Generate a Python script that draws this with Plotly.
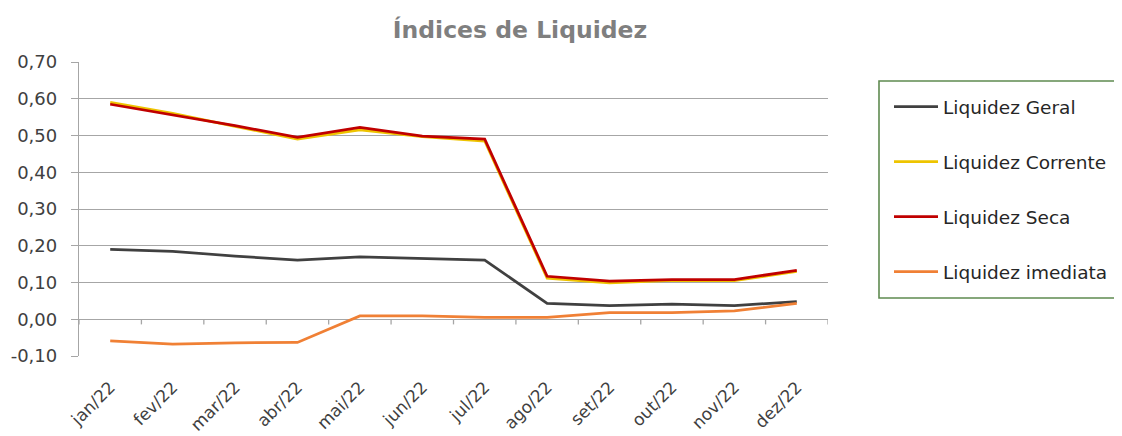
import plotly.graph_objects as go

months = ["jan/22", "fev/22", "mar/22", "abr/22", "mai/22", "jun/22",
          "jul/22", "ago/22", "set/22", "out/22", "nov/22", "dez/22"]
liq_geral = [0.190, 0.185, 0.172, 0.161, 0.170, 0.165, 0.161, 0.043, 0.037, 0.041, 0.037, 0.048]
liq_corrente = [0.590, 0.560, 0.525, 0.490, 0.515, 0.497, 0.485, 0.112, 0.099, 0.106, 0.105, 0.130]
liq_seca = [0.585, 0.556, 0.527, 0.495, 0.522, 0.498, 0.490, 0.117, 0.104, 0.108, 0.108, 0.133]
liq_imediata = [-0.059, -0.068, -0.064, -0.063, 0.009, 0.009, 0.005, 0.005, 0.018, 0.018, 0.023, 0.043]

y_tick_values = [-0.1, 0.0, 0.1, 0.2, 0.3, 0.4, 0.5, 0.6, 0.7]
y_tick_labels = ["-0,10", "0,00", "0,10", "0,20", "0,30", "0,40", "0,50", "0,60", "0,70"]

series = [
    ("Liquidez Geral", liq_geral, "#404040", 2.75),
    ("Liquidez Corrente", liq_corrente, "#EEC400", 2.75),
    ("Liquidez Seca", liq_seca, "#C00000", 2.75),
    ("Liquidez imediata", liq_imediata, "#F08035", 2.75),
]

# The page body has an 8px default margin, so layout is expressed in
# window pixels and converted to figure pixels by subtracting OFF.
OFF = 8
W, H = 1122 - OFF, 436 - OFF
PL, PR, PT, PB = 79, 828, 62, 356          # plot area in window px
L, T = PL - OFF, PT - OFF
R, B = W - (PR - OFF), H - (PB - OFF)
PW, PH = W - L - R, H - T - B

def pxx(px):
    return (px - OFF - L) / PW

def pxy(py):
    return (H - B - (py - OFF)) / PH

FONT = "'DejaVu Sans', sans-serif"
fig = go.Figure()
for name, vals, color, w in series:
    fig.add_trace(go.Scatter(x=months, y=vals, mode="lines", name=name,
                             legendgroup=name,
                             line=dict(color=color, width=w)))

shapes = []
# x-axis tick marks on the zero line at category boundaries
for k in range(len(months) + 1):
    shapes.append(dict(type="line", xref="x", yref="y", x0=k - 0.5, x1=k - 0.5,
                       y0=0, y1=-0.014, line=dict(color="#a6a6a6", width=1.3)))
# legend frame
shapes.append(dict(type="rect", xref="paper", yref="paper",
                   x0=pxx(879), x1=pxx(1119), y0=pxy(81), y1=pxy(298),
                   line=dict(color="#5F8A50", width=1.6), fillcolor="rgba(0,0,0,0)"))

fig.update_layout(
    width=W, height=H,
    margin=dict(l=L, r=R, t=T, b=B, autoexpand=False),
    paper_bgcolor="white", plot_bgcolor="white",
    font=dict(family=FONT, size=16, color="#404040"),
    title=dict(text="<b>Índices de Liquidez</b>", x=(520 - OFF) / W, xanchor="center",
               y=1 - (30 - OFF) / H, yanchor="middle",
               font=dict(family=FONT, size=23.5, color="#7f7f7f")),
    xaxis=dict(type="category", range=[-0.5, 11.5], showgrid=False, showline=False,
               ticks="", tickangle=-45, zeroline=False, automargin=False,
               ticklabelstandoff=17,
               tickfont=dict(size=17, color="#404040")),
    yaxis=dict(range=[-0.1, 0.7], tickmode="array",
               tickvals=y_tick_values, ticktext=y_tick_labels,
               showgrid=True, gridcolor="#a6a6a6", gridwidth=1.3,
               showline=True, linecolor="#a6a6a6", linewidth=1.3,
               ticks="outside", ticklen=7, tickcolor="#a6a6a6",
               zeroline=True, zerolinecolor="#a6a6a6", zerolinewidth=1.3,
               automargin=False, ticklabelstandoff=10,
               tickfont=dict(size=18, color="#404040")),
    legend=dict(x=pxx(889), xanchor="left", y=pxy(88), yanchor="top",
                borderwidth=0, bgcolor="rgba(0,0,0,0)",
                font=dict(size=18.5, color="#262626"),
                tracegroupgap=28, itemwidth=44),
    shapes=shapes,
    showlegend=True,
)

fig.write_html("out.html")
